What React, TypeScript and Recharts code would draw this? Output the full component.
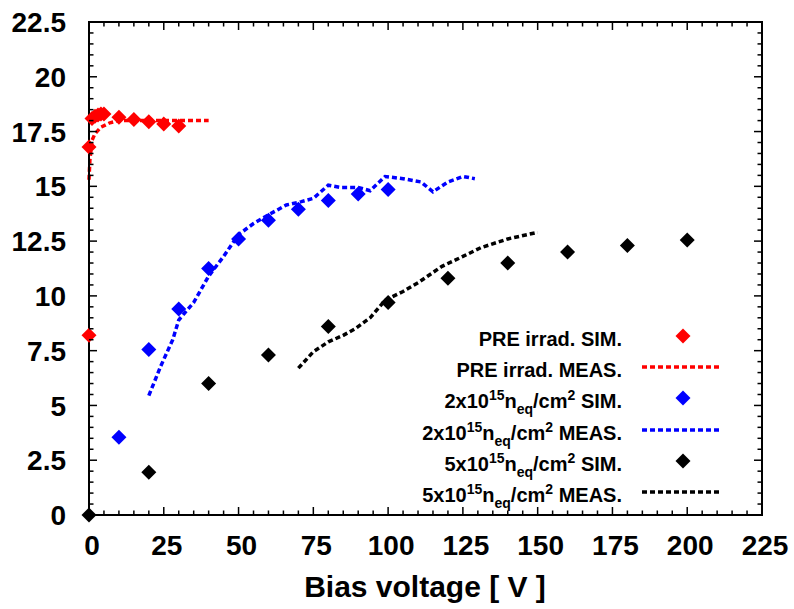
import { ComposedChart, Scatter, Line, XAxis, YAxis, ReferenceArea } from 'recharts'

// PRE irrad.
const preSimV = [0, 0, 1, 2, 3, 4, 5, 10, 15, 20, 25, 30]
const preSimVal = [8.2, 16.8, 18.1, 18.2, 18.25, 18.3, 18.3, 18.15, 18.05, 17.95, 17.85, 17.75]
const preMeasV = [0, 0.3, 1, 2, 4, 7, 10, 15, 20, 30, 40]
const preMeasVal = [15.3, 16.2, 17.1, 17.4, 17.7, 17.9, 18.0, 18.0, 18.0, 18.0, 18.0]

// 2x10^15 neq/cm2
const f2SimV = [10, 20, 30, 40, 50, 60, 70, 80, 90, 100]
const f2SimVal = [3.55, 7.55, 9.4, 11.25, 12.6, 13.45, 13.95, 14.35, 14.65, 14.85]
const f2MeasV = [20, 24, 28, 30, 35, 40, 45, 50, 55, 60, 66, 71, 75, 80, 84, 90, 94, 99, 105, 111, 115, 120, 125, 129]
const f2MeasVal = [5.45, 6.8, 8.0, 8.9, 9.7, 10.9, 11.8, 12.8, 13.3, 13.7, 14.15, 14.3, 14.45, 15.05, 14.95, 14.95, 14.8, 15.45, 15.35, 15.2, 14.75, 15.2, 15.45, 15.35]

// 5x10^15 neq/cm2
const f5SimV = [0, 20, 40, 60, 80, 100, 120, 140, 160, 180, 200]
const f5SimVal = [0, 1.95, 6.0, 7.3, 8.6, 9.7, 10.8, 11.5, 12.0, 12.3, 12.55]
const f5MeasV = [70, 75, 80, 85, 89, 94, 99, 105, 110, 118, 125, 131, 140, 150]
const f5MeasVal = [6.7, 7.45, 7.9, 8.2, 8.5, 9.0, 9.8, 10.2, 10.6, 11.35, 11.8, 12.2, 12.6, 12.9]

// ticks: minor every 5 V / 0.5, labelled every 25 V / 2.5
const xTicks = Array.from({ length: 46 }, (_, i) => i * 5)
const yTicks = Array.from({ length: 46 }, (_, i) => i * 0.5)

const toPoints = (xs: number[], ys: number[]) => xs.map((x, i) => ({ x, y: ys[i] }))

const W = 794
const H = 609
const MARGIN = { top: 22, right: 32, left: 0, bottom: 0 }
const PLOT_TOP = MARGIN.top
const PLOT_RIGHT = W - MARGIN.right

const FONT = '"Liberation Sans", Arial, Helvetica, sans-serif'
const RED = '#ff0000'
const BLUE = '#0000ff'
const BLACK = '#000000'

const isMultiple = (v: number, step: number) => Math.abs(v / step - Math.round(v / step)) < 1e-6

const Diamond = (props: any) => {
  const { cx, cy, fill } = props
  const r = 7.5
  return <path d={`M${cx},${cy - r}L${cx + r},${cy}L${cx},${cy + r}L${cx - r},${cy}Z`} fill={fill} />
}

// gnuplot-like inward ticks, mirrored on the top edge
const XTick = (props: any) => {
  const { x, y, payload } = props
  const v = payload.value
  const major = isMultiple(v, 25)
  const len = major ? 8 : 4.5
  return (
    <g>
      <line x1={x} x2={x} y1={y} y2={y - len} stroke="#000" strokeWidth={1.5} />
      <line x1={x} x2={x} y1={PLOT_TOP} y2={PLOT_TOP + len} stroke="#000" strokeWidth={1.5} />
      {major && (
        <text x={x + 3} y={y + 20} dy="0.71em" textAnchor="middle" fontSize={28} fontWeight="bold" fontFamily={FONT} fill="#000">
          {v}
        </text>
      )}
    </g>
  )
}

// inward ticks on the left, mirrored on the right edge
const YTick = (props: any) => {
  const { x, y, payload } = props
  const v = payload.value
  const major = isMultiple(v, 2.5)
  const len = major ? 8 : 4.5
  return (
    <g>
      <line x1={x} x2={x + len} y1={y} y2={y} stroke="#000" strokeWidth={1.5} />
      <line x1={PLOT_RIGHT} x2={PLOT_RIGHT - len} y1={y} y2={y} stroke="#000" strokeWidth={1.5} />
      {major && (
        <text x={x - 23} y={y} dy="0.36em" textAnchor="end" fontSize={28} fontWeight="bold" fontFamily={FONT} fill="#000">
          {v}
        </text>
      )}
    </g>
  )
}

function Sup({ children }: { children: any }) {
  return <span style={{ fontSize: 14, position: 'relative', top: -8 }}>{children}</span>
}
function Sub({ children }: { children: any }) {
  return <span style={{ fontSize: 14, position: 'relative', top: 6 }}>{children}</span>
}

const legendRows = [
  { kind: 'sim', color: RED, label: <>PRE irrad. SIM.</> },
  { kind: 'meas', color: RED, label: <>PRE irrad. MEAS.</> },
  { kind: 'sim', color: BLUE, label: <>2x10<Sup>15</Sup>n<Sub>eq</Sub>/cm<Sup>2</Sup> SIM.</> },
  { kind: 'meas', color: BLUE, label: <>2x10<Sup>15</Sup>n<Sub>eq</Sub>/cm<Sup>2</Sup> MEAS.</> },
  { kind: 'sim', color: BLACK, label: <>5x10<Sup>15</Sup>n<Sub>eq</Sub>/cm<Sup>2</Sup> SIM.</> },
  { kind: 'meas', color: BLACK, label: <>5x10<Sup>15</Sup>n<Sub>eq</Sub>/cm<Sup>2</Sup> MEAS.</> },
]

export default function App() {
  return (
    <div style={{ position: 'absolute', left: 0, top: 0, width: W, height: H, background: '#fff', fontFamily: FONT }}>
      <ComposedChart width={W} height={H} margin={MARGIN}>
        <XAxis type="number" dataKey="x" domain={[0, 225]} ticks={xTicks} interval={0} height={94}
          axisLine={{ stroke: '#000', strokeWidth: 2 }} tickLine={false} tickSize={0} tickMargin={0} tick={XTick} />
        <YAxis type="number" dataKey="y" domain={[0, 22.5]} ticks={yTicks} interval={0} width={89}
          axisLine={{ stroke: '#000', strokeWidth: 2 }} tickLine={false} tickSize={0} tickMargin={0} tick={YTick} />

        <ReferenceArea x1={0} x2={225} y1={0} y2={22.5} fill="none" fillOpacity={0} stroke="#000" strokeWidth={2} />

        <Line data={toPoints(preMeasV, preMeasVal)} dataKey="y" type="linear" stroke={RED} strokeWidth={3.5}
          strokeDasharray="5 3" dot={false} isAnimationActive={false} />
        <Line data={toPoints(f2MeasV, f2MeasVal)} dataKey="y" type="linear" stroke={BLUE} strokeWidth={3.5}
          strokeDasharray="5 3" dot={false} isAnimationActive={false} />
        <Line data={toPoints(f5MeasV, f5MeasVal)} dataKey="y" type="linear" stroke={BLACK} strokeWidth={3.5}
          strokeDasharray="5 3" dot={false} isAnimationActive={false} />

        <Scatter data={toPoints(preSimV, preSimVal)} dataKey="y" fill={RED} shape={Diamond} isAnimationActive={false} />
        <Scatter data={toPoints(f2SimV, f2SimVal)} dataKey="y" fill={BLUE} shape={Diamond} isAnimationActive={false} />
        <Scatter data={toPoints(f5SimV, f5SimVal)} dataKey="y" fill={BLACK} shape={Diamond} isAnimationActive={false} />
      </ComposedChart>

      {legendRows.map((row, i) => {
        const cy = 336 + i * 31.2
        return (
          <div key={i}>
            <div style={{ position: 'absolute', left: 0, width: 622, top: cy - 12 + 3, lineHeight: '24px', textAlign: 'right', fontSize: 20, fontWeight: 'bold', whiteSpace: 'nowrap' }}>
              {row.label}
            </div>
            <svg style={{ position: 'absolute', left: 640, top: cy - 10 }} width={90} height={20}>
              {row.kind === 'sim'
                ? <path d="M43,2.5L50.5,10L43,17.5L35.5,10Z" fill={row.color} />
                : <line x1={2} x2={82} y1={10} y2={10} stroke={row.color} strokeWidth={3.5} strokeDasharray="5 3" />}
            </svg>
          </div>
        )
      })}

      <div style={{ position: 'absolute', left: 225, width: 400, top: 572, lineHeight: '30px', textAlign: 'center', fontSize: 30, fontWeight: 'bold', whiteSpace: 'nowrap' }}>
        Bias voltage [ V ]
      </div>
    </div>
  )
}
